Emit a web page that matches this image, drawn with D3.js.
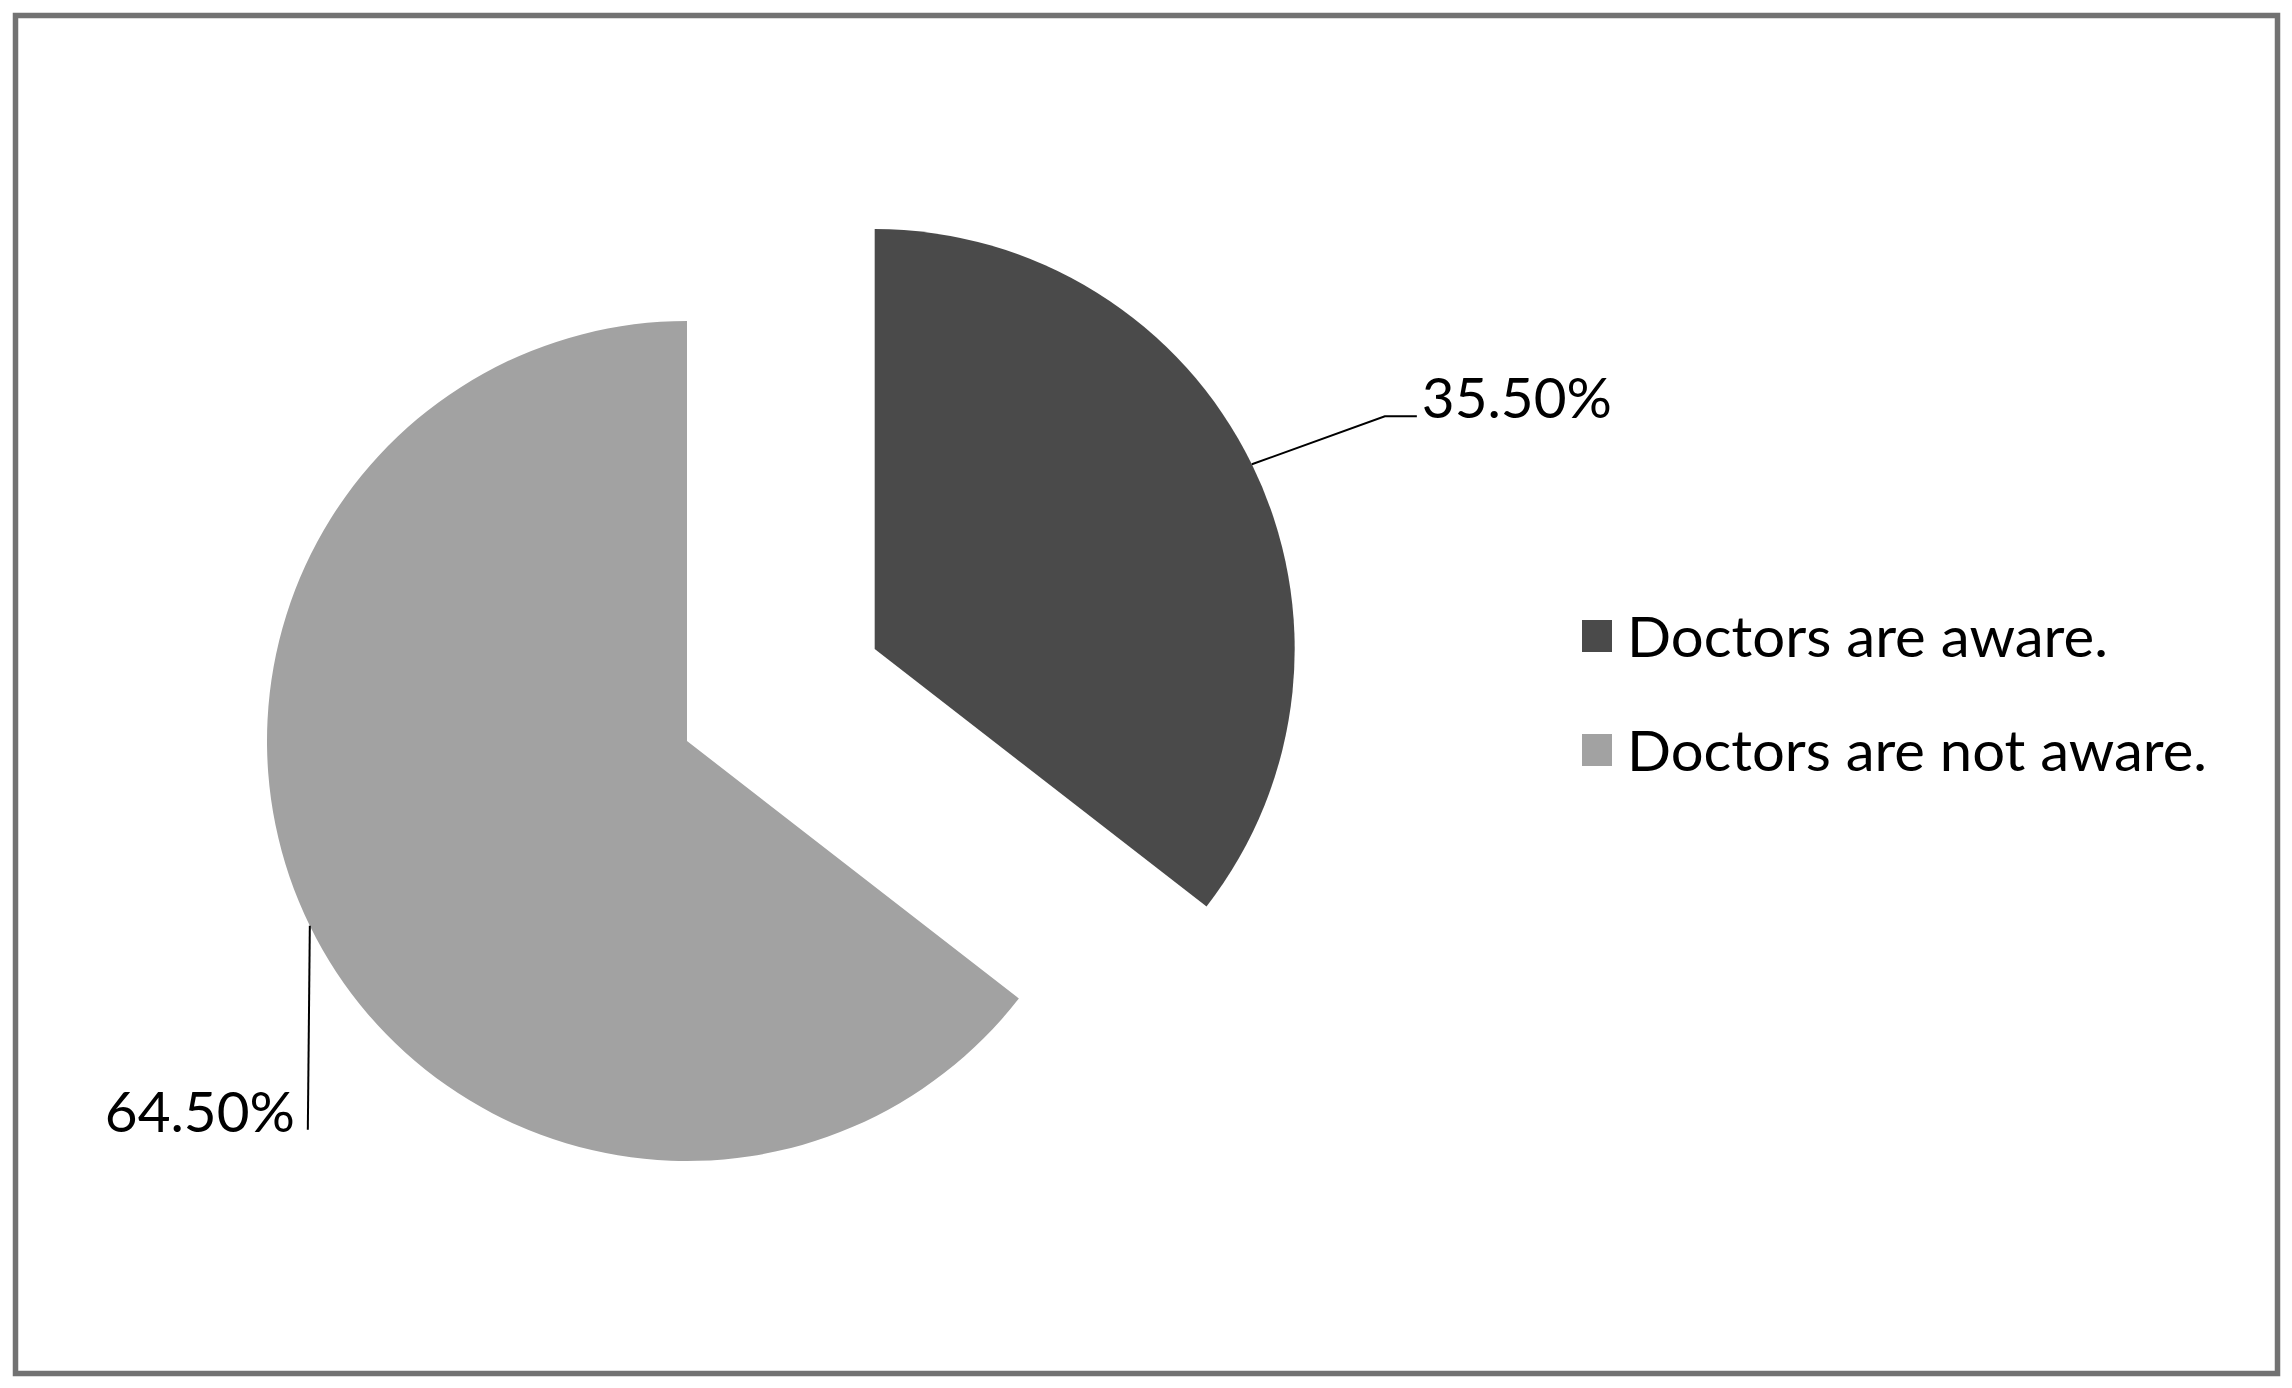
<!DOCTYPE html>
<html>
<head>
<meta charset="utf-8">
<script src="https://cdn.jsdelivr.net/npm/d3@7"></script>
<style>
  html, body { margin: 0; padding: 0; background: #fff; }
  svg { display: block; }
  text { font-family: Lato, "Open Sans", sans-serif; fill: #000; }
</style>
</head>
<body>
<div id="chart"></div>
<script>
// data
const categories = ['Doctors are aware.', 'Doctors are not aware.'];
const values = [35.5, 64.5];
const valueLabels = ['35.50%', '64.50%'];
const colors = ['#4a4a4a', '#a2a2a2'];

const width = 2292;
const height = 1388;
const cx = 687, cy = 741, radius = 420;
const explode = [209, 0];

// leader line layout (elbow offset from the slice edge, then a short tail)
const leaders = [
    { elbow: [133, -48], tail: 32, anchor: 'start', dx: 5, width: 190, size: 57 },
    { elbow: [-2, 204], tail: 0, anchor: 'end', dx: -13, width: 190, size: 57 }
];

const svg = d3.select('#chart')
    .append('svg')
    .attr('width', width)
    .attr('height', height);

svg.append('rect')
    .attr('x', 15.5)
    .attr('y', 15.5)
    .attr('width', 2262)
    .attr('height', 1358)
    .attr('fill', '#fff')
    .attr('stroke', '#727272')
    .attr('stroke-width', 5.5);

const pie = d3.pie().sort(null).value(d => d)(values);
const arc = d3.arc().innerRadius(0).outerRadius(radius);

const slices = svg.append('g')
    .attr('transform', `translate(${cx}, ${cy})`);

pie.forEach((p, i) => {
    const mid = (p.startAngle + p.endAngle) / 2;
    const ox = Math.sin(mid) * explode[i];
    const oy = -Math.cos(mid) * explode[i];
    const g = slices.append('g').attr('transform', `translate(${ox}, ${oy})`);

    g.append('path')
        .attr('d', arc(p))
        .attr('fill', colors[i]);

    // leader line from slice edge
    const ex = Math.sin(mid) * radius;
    const ey = -Math.cos(mid) * radius;
    const L = leaders[i];
    const bx = ex + L.elbow[0];
    const by = ey + L.elbow[1];
    const tx = bx + L.tail;
    g.append('path')
        .attr('d', `M${ex},${ey}L${bx},${by}L${tx},${by}`)
        .attr('fill', 'none')
        .attr('stroke', '#000')
        .attr('stroke-width', 2);

    g.append('text')
        .attr('x', tx + L.dx)
        .attr('y', by + 2)
        .attr('text-anchor', L.anchor)
        .attr('font-size', L.size)
        .attr('textLength', L.width)
        .attr('lengthAdjust', 'spacingAndGlyphs')
        .text(valueLabels[i]);
});

// legend
const legendWidths = [481, 580];
const legend = svg.append('g')
    .attr('transform', 'translate(1582, 620)');

categories.forEach((c, i) => {
    const row = legend.append('g').attr('transform', `translate(0, ${i * 114})`);
    row.append('rect')
        .attr('width', 30)
        .attr('height', 32)
        .attr('fill', colors[i]);
    row.append('text')
        .attr('x', 45)
        .attr('y', 37)
        .attr('font-size', 57)
        .attr('textLength', legendWidths[i])
        .attr('lengthAdjust', 'spacingAndGlyphs')
        .text(c);
});
</script>
</body>
</html>
